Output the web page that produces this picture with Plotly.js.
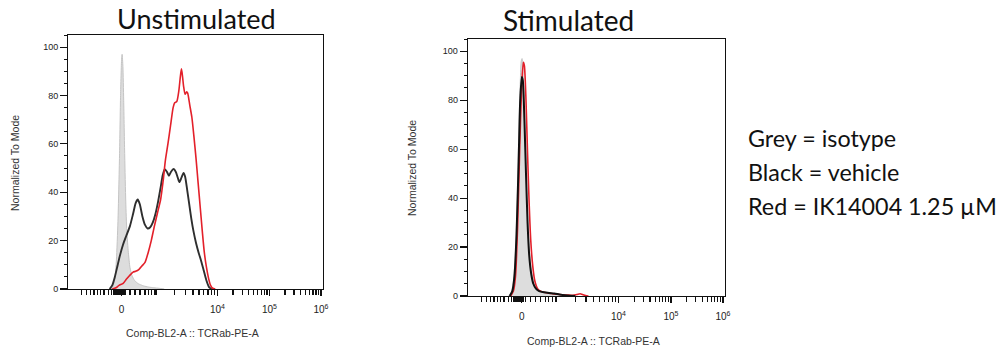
<!DOCTYPE html>
<html>
<head>
<meta charset="utf-8">
<script src="https://cdn.plot.ly/plotly-3.0.1.min.js"></script>
<style>html,body{margin:0;padding:0;background:#fff;}#chart{width:1008px;height:350px;}</style>
</head>
<body>
<div id="chart"></div>
<script>
// x values are logicle display positions (decade units), y = Normalized To Mode
const unstimIsotypeX = [0.82,0.86,0.90,0.93,0.96,0.99,1.01,1.03,1.04,1.055,1.07,1.09,1.11,1.13,1.16,1.19,1.23,1.28,1.35,1.45,1.55,1.65,1.75,1.85];
const unstimIsotypeY = [0,1,4,12,28,55,80,95,97,92,78,55,36,24,15,9,5.5,3.5,2.2,1.3,0.8,0.5,0.3,0];

const unstimVehicleX = [0.80,0.85,0.90,0.95,1.00,1.06,1.12,1.19,1.25,1.30,1.34,1.38,1.43,1.48,1.53,1.58,1.63,1.68,1.73,1.78,1.82,1.86,1.90,1.94,1.98,2.03,2.07,2.11,2.14,2.18,2.22,2.25,2.29,2.33,2.37,2.41,2.46,2.51,2.56,2.61,2.66,2.71,2.76];
const unstimVehicleY = [0,1.5,5,9.5,14,18.5,22,26,31,35.5,37,35,30,26.5,25,25.5,27.5,31,36,42,47,49.5,48.5,46.8,48.5,49.6,48.5,46,44.2,46,48,46.5,41,35,29,24,19,15,11.5,7.5,3.5,0.8,0];

const unstimDrugX = [0.85,0.92,0.98,1.06,1.12,1.18,1.25,1.30,1.36,1.42,1.48,1.54,1.60,1.66,1.72,1.78,1.83,1.87,1.92,1.97,2.02,2.05,2.09,2.13,2.16,2.18,2.20,2.22,2.25,2.28,2.30,2.34,2.38,2.42,2.46,2.50,2.54,2.58,2.62,2.66,2.70,2.74,2.78,2.83];
const unstimDrugY = [0,0.5,1.5,2.3,4,5.5,7,7.3,8,9.5,11,15,20,26,31.5,37,45,53,60,67.5,75,77,77.5,82,88,91,88,84,80.5,81.5,81,76,71,63,54,44,34,24,15,9,4.5,1.5,0.3,0];

const stimIsotypeX = [0.78,0.83,0.87,0.91,0.95,0.99,1.02,1.035,1.06,1.09,1.12,1.15,1.18,1.22,1.26,1.30,1.36,1.45,1.55,1.65,1.75,1.85];
const stimIsotypeY = [0,1.5,6,18,45,80,96,97,88,68,45,28,17,9,5,3,2,1.5,1.2,0.8,0.4,0];

const stimVehicleX = [0.80,0.85,0.89,0.93,0.97,1.00,1.03,1.05,1.08,1.11,1.14,1.17,1.21,1.25,1.30,1.36,1.45,1.55,1.65,1.75,1.85,1.95,2.05];
const stimVehicleY = [0,2,8,25,55,80,89.5,88,72,50,30,17,9,5,3,2,1.5,1.2,1,0.6,0.3,0.1,0];

const stimDrugX = [0.82,0.87,0.91,0.95,0.99,1.03,1.06,1.08,1.11,1.14,1.17,1.20,1.24,1.28,1.33,1.40,1.50,1.60,1.70,1.80,1.90,2.00,2.08,2.14,2.20,2.26,2.30];
const stimDrugY = [0,2,8,28,60,87,95.5,94,80,58,38,23,12,6,3,1.8,1.3,1,0.7,0.5,0.4,0.3,0.6,0.9,0.5,0.1,0];

const panelTitles = ["Unstimulated", "Stimulated"];
const legendLines = ["Grey = isotype", "Black = vehicle", "Red = IK14004 1.25 µM"];
const yAxisTitle = "Normalized To Mode";
const xAxisTitle = "Comp-BL2-A :: TCRab-PE-A";

// logicle axis positions (display units)
const labelTickVals = [1.029, 2.871, 3.871, 4.86];
const labelTickText = ["0", "10<sup>4</sup>", "10<sup>5</sup>", "10<sup>6</sup>"];
const unlabeledMajorVals = [0.263, 1.692];

function minorTicks() {
  const v = unlabeledMajorVals.slice();
  [0.360,0.437,0.500,0.563,0.629,0.692,0.775,0.840].forEach(t => v.push(t));
  for (let t = 0.87; t <= 1.07; t += 0.022) v.push(+t.toFixed(3));
  [1.096,1.192,1.288,1.385,1.481,1.544,1.610,1.673].forEach(t => v.push(t));
  for (let m = 2; m <= 9; m++) v.push(1.692 + 1.179 * Math.log10(m));
  for (let m = 2; m <= 9; m++) v.push(2.871 + Math.log10(m));
  for (let m = 2; m <= 9; m++) v.push(3.871 + 0.989 * Math.log10(m));
  return v;
}

const FONT = "Liberation Sans, Arial, sans-serif";
const TITLE_FONT = "Lato, Carlito, sans-serif";

function xAxis(domain, anchor) {
  return {
    domain: domain, anchor: anchor, range: [0, 4.9], fixedrange: true,
    showline: true, mirror: true, linecolor: '#111', linewidth: 1,
    showgrid: false, zeroline: false,
    tickmode: 'array', tickvals: labelTickVals, ticktext: labelTickText,
    ticks: 'outside', ticklen: 6, tickwidth: 1.4, tickcolor: '#111',
    ticklabelstandoff: 5,
    tickfont: {family: FONT, size: 10, color: '#222'},
    minor: {tickmode: 'array', tickvals: minorTicks(), ticks: 'outside', ticklen: 4.5, tickwidth: 1.2, tickcolor: '#111', showgrid: false}
  };
}
function yAxis(domain, anchor) {
  return {
    domain: domain, anchor: anchor, range: [0, 105], fixedrange: true,
    showline: true, mirror: true, linecolor: '#111', linewidth: 1,
    showgrid: false, zeroline: false,
    tickmode: 'array', tickvals: [0,20,40,60,80,100],
    ticks: 'outside', ticklen: 7, tickwidth: 1.2, tickcolor: '#111',
    tickfont: {family: FONT, size: 9, color: '#222'},
    minor: {dtick: 5, tick0: 0, ticks: 'outside', ticklen: 3, tickwidth: 1, tickcolor: '#111', showgrid: false}
  };
}

const greyFill = {fill: 'tozeroy', fillcolor: '#dddddd', line: {color: '#c4c4c4', width: 1, shape: 'spline', smoothing: 0.6}};
const traces = [
  Object.assign({x: unstimIsotypeX, y: unstimIsotypeY, xaxis: 'x', yaxis: 'y', mode: 'lines', name: 'isotype'}, greyFill),
  {x: unstimVehicleX, y: unstimVehicleY, xaxis: 'x', yaxis: 'y', mode: 'lines', name: 'vehicle', line: {color: '#2e2e2e', width: 1.9, shape: 'spline', smoothing: 0.6}},
  {x: unstimDrugX, y: unstimDrugY, xaxis: 'x', yaxis: 'y', mode: 'lines', name: 'IK14004', line: {color: '#e3202a', width: 1.6, shape: 'spline', smoothing: 0.6}},
  Object.assign({x: stimIsotypeX, y: stimIsotypeY, xaxis: 'x2', yaxis: 'y2', mode: 'lines', name: 'isotype'}, greyFill),
  {x: stimDrugX, y: stimDrugY, xaxis: 'x2', yaxis: 'y2', mode: 'lines', name: 'IK14004', line: {color: '#e3202a', width: 1.6, shape: 'spline', smoothing: 0.6}},
  {x: stimVehicleX, y: stimVehicleY, xaxis: 'x2', yaxis: 'y2', mode: 'lines', name: 'vehicle', line: {color: '#111111', width: 2, shape: 'spline', smoothing: 0.6}}
];

const W = 1008, H = 350;
function px(x) { return x / W; }
function py(y) { return 1 - y / H; }
function ann(text, x, y, size, family, extra) {
  return Object.assign({text: text, xref: 'paper', yref: 'paper', x: px(x), y: py(y), showarrow: false,
    xanchor: 'center', yanchor: 'middle', font: {family: family, size: size, color: '#111'}}, extra || {});
}

const annotations = [
  ann(panelTitles[0], 196, 19, 27, TITLE_FONT),
  ann(panelTitles[1], 568, 20, 28, TITLE_FONT),
  ann(yAxisTitle, 15, 163, 10.5, FONT, {textangle: -90, font: {family: FONT, size: 10.5, color: '#333'}}),
  ann(yAxisTitle, 412, 168, 10.5, FONT, {textangle: -90, font: {family: FONT, size: 10.5, color: '#333'}}),
  ann(xAxisTitle, 192, 333, 10.5, FONT, {font: {family: FONT, size: 10.5, color: '#333'}}),
  ann(xAxisTitle, 593, 341, 10.5, FONT, {font: {family: FONT, size: 10.5, color: '#333'}})
];
legendLines.forEach((t, i) => {
  annotations.push(ann(t, 746, 138 + i * 34, 23.3, TITLE_FONT, {xanchor: 'left'}));
});

const layout = {
  width: W, height: H,
  margin: {l: 0, r: 0, t: 0, b: 0},
  paper_bgcolor: '#fff', plot_bgcolor: '#fff',
  showlegend: false,
  xaxis: xAxis([68 / W, 323 / W], 'y'),
  yaxis: yAxis([(H - 289) / H, (H - 35) / H], 'x'),
  xaxis2: xAxis([467.7 / W, 725 / W], 'y2'),
  yaxis2: yAxis([(H - 296) / H, (H - 39) / H], 'x2'),
  annotations: annotations
};

Plotly.newPlot('chart', traces, layout, {displayModeBar: false, staticPlot: true});
</script>
</body>
</html>
